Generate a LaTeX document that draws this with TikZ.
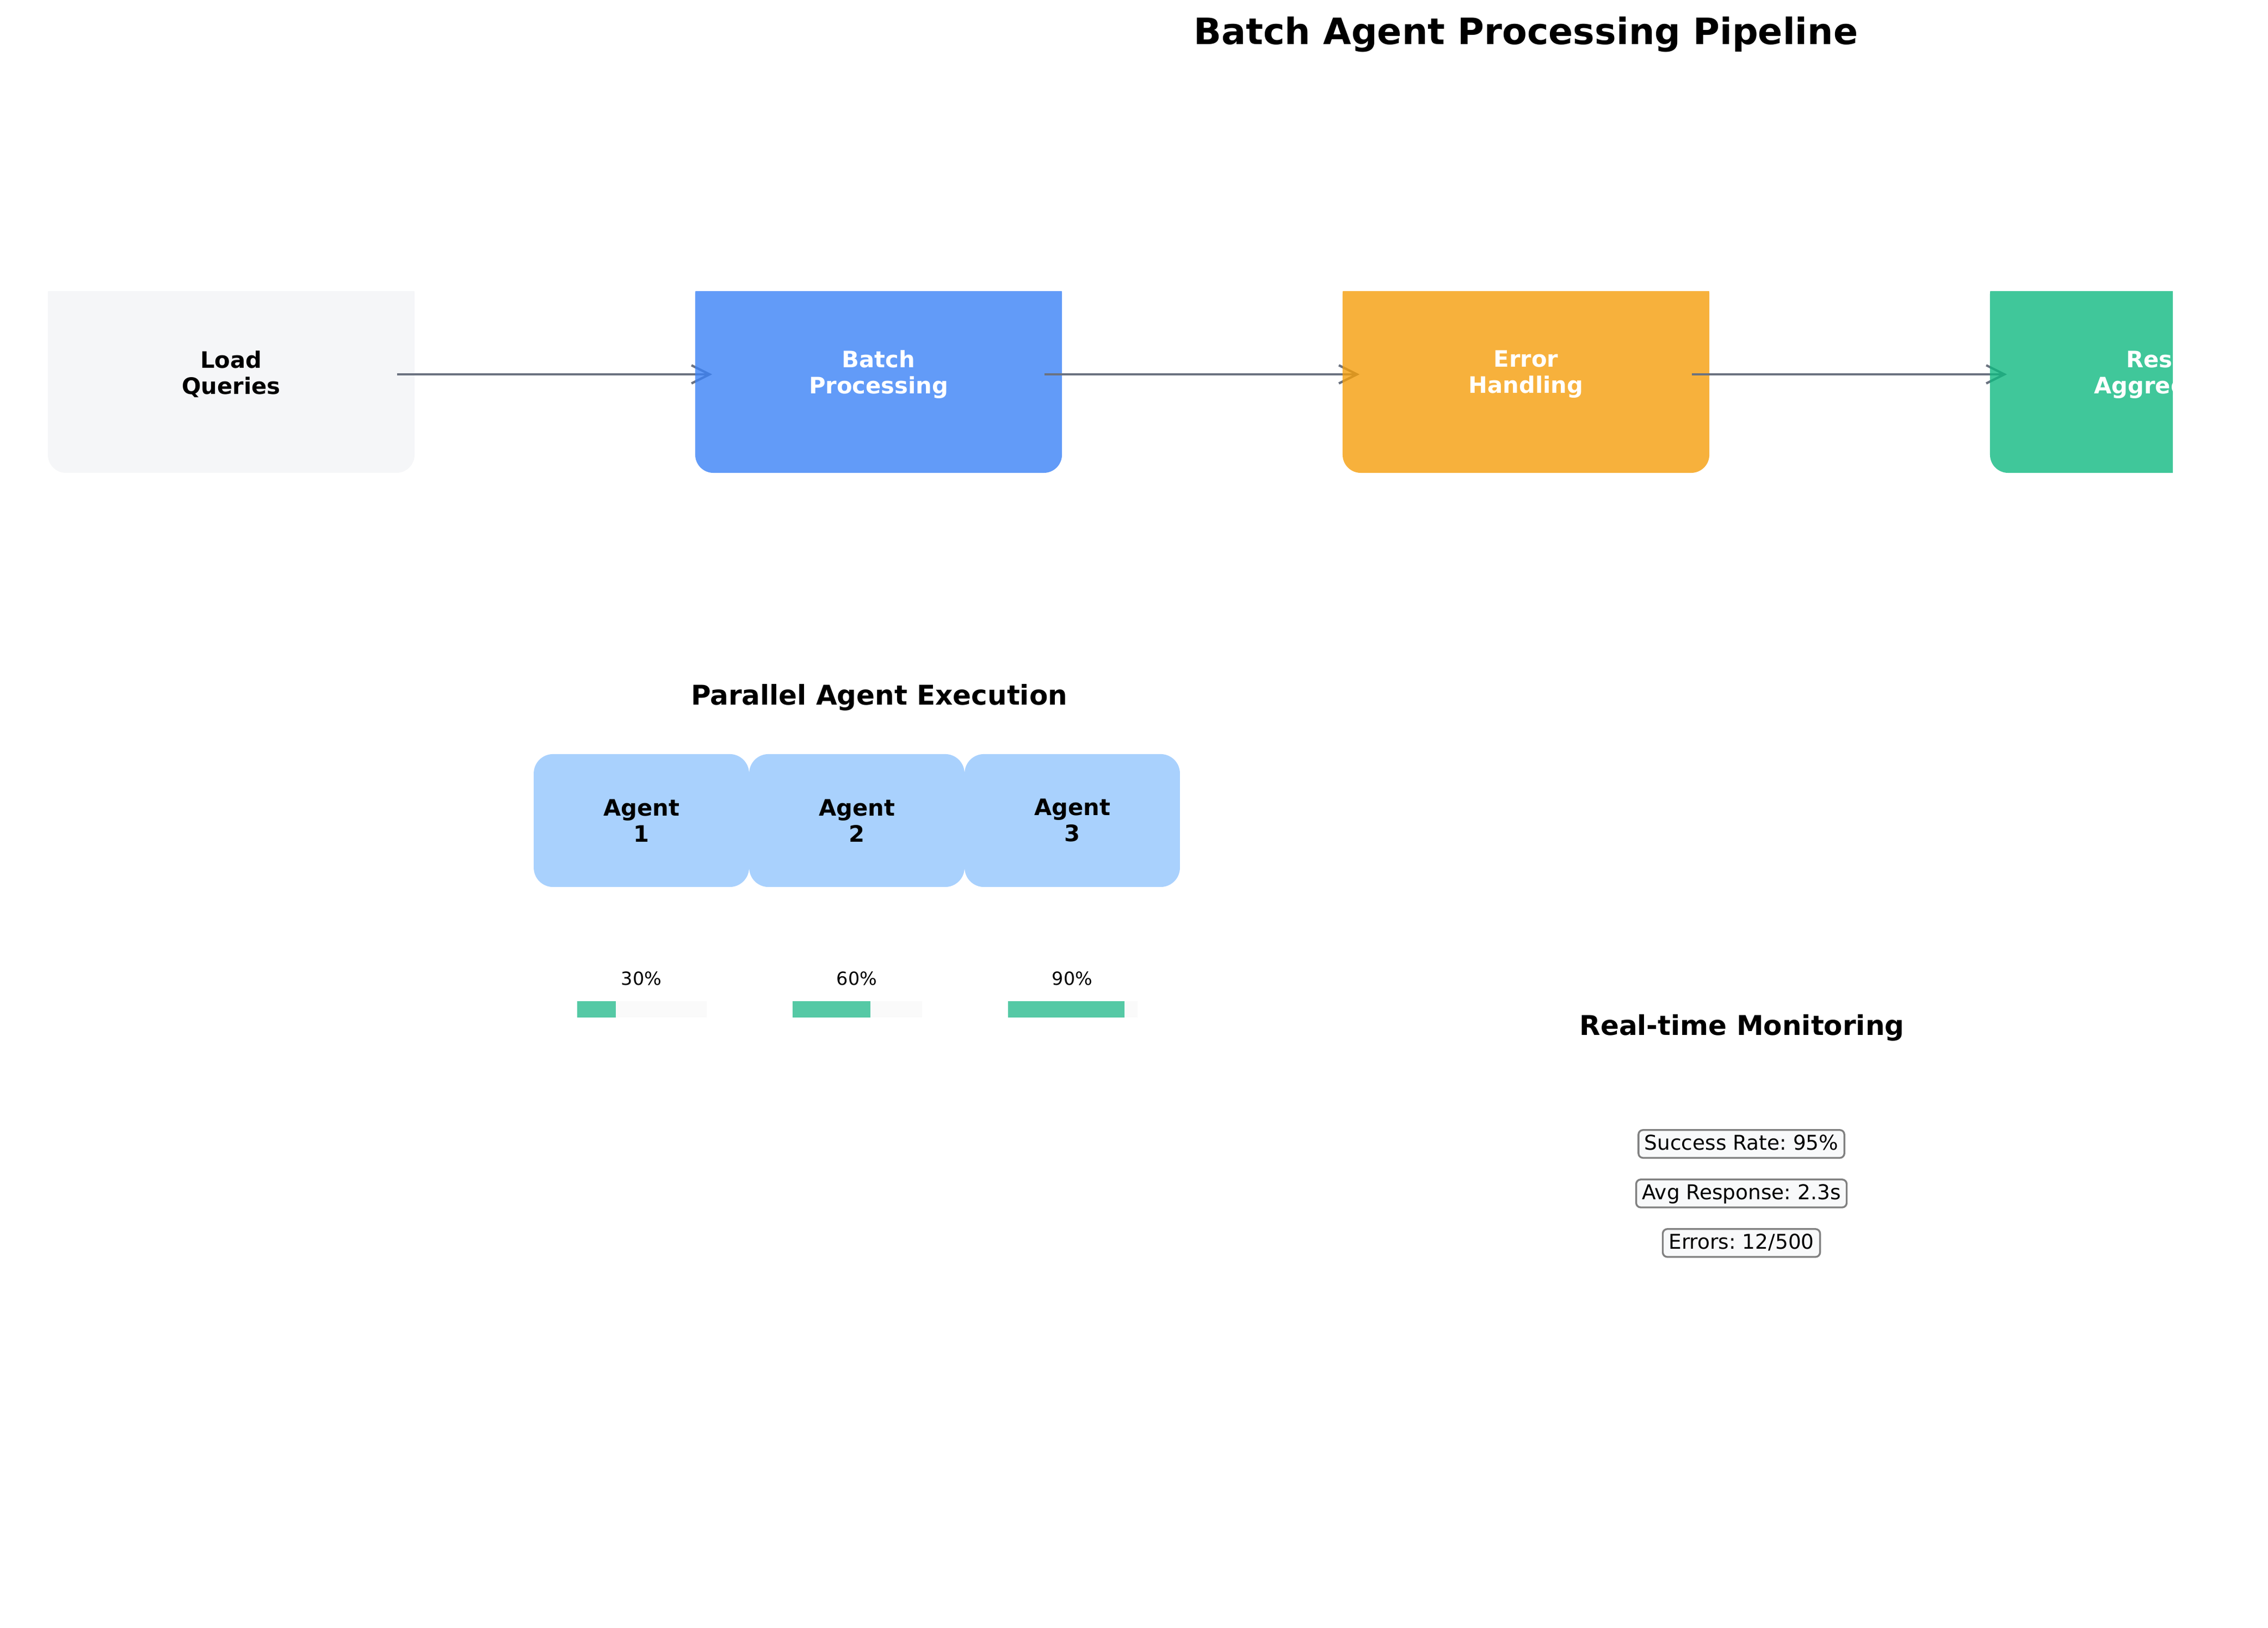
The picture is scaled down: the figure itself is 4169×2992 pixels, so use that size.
\documentclass[tikz,border=0pt]{standalone}
\usepackage{fontspec}
\setmainfont{DejaVu Sans}
\usetikzlibrary{arrows.meta}
\frenchspacing
\definecolor{loadgray}{HTML}{F3F4F6}
\definecolor{batchblue}{HTML}{3B82F6}
\definecolor{erroramber}{HTML}{F59E0B}
\definecolor{resultgreen}{HTML}{10B981}
\definecolor{agentblue}{HTML}{93C5FD}
\definecolor{arrowgray}{HTML}{6B7280}
\definecolor{barfill}{HTML}{55C9A5}
\definecolor{bartrack}{HTML}{FAFAFA}
\definecolor{metricfill}{HTML}{F8F9FA}
\definecolor{metricedge}{HTML}{808080}
\tikzset{
	% ---- default
	every node/.style={inner sep=0pt},
	every picture/.style={x=0.24pt, y=-0.24pt},
	% ---- custom
	title/.style={font=\fontsize{16}{19.2}\selectfont\bfseries},
	heading/.style={font=\fontsize{12}{14.4}\selectfont\bfseries},
	stage/.style={rectangle, rounded corners=8pt, minimum width=161.8pt, minimum height=86.9pt,
		fill opacity=0.8, text opacity=1, align=center, font=\fontsize{10}{11.5}\selectfont\bfseries},
	agent/.style={rectangle, rounded corners=8.5pt, fill=agentblue, fill opacity=0.8, text opacity=1,
		minimum width=95pt, minimum height=58.6pt, align=center, font=\fontsize{10}{11.5}\selectfont\bfseries},
	flow/.style={-{Straight Barb[length=8pt, width=8pt]}, line width=1pt, draw=arrowgray},
	percent/.style={font=\fontsize{8}{9.6}\selectfont},
	metric/.style={rectangle, rounded corners=2pt, draw=metricedge, line width=0.8pt, fill=metricfill,
		inner xsep=2.6pt, inner ysep=2.7pt, text height=6pt, text depth=0.9pt, font=\fontsize{9}{10.8}\selectfont},
}

\begin{document}
\begin{tikzpicture}

\useasboundingbox (0,0) rectangle (4169,2992);

% parameters %{{{2

	\def\stagey{688}
	\def\agenty{1508}
	\def\barw{238}

% coordinates %{{{2

	\coordinate (E2) at (1309,\stagey);
	\coordinate (E3) at (2499,\stagey);
	\coordinate (E4) at (3689,\stagey);

% title %{{{2

	\node[title, anchor=base] (T) at (2805,82) {Batch Agent Processing Pipeline};

% pipeline stages and arrows %{{{2

	\begin{scope}
		\clip (0,536) rectangle (3994,2992);

		\node[stage, fill=loadgray] (S1) at (425,\stagey) {Load\\Queries};
		\draw[flow, shorten <=-7.9pt] (S1) -- (E2);

		\node[stage, fill=batchblue, text=white] (S2) at (1615,\stagey) {Batch\\Processing};
		\draw[flow, shorten <=-7.9pt] (S2) -- (E3);

		\node[stage, fill=erroramber, text=white] (S3) at (2805,\stagey) {Error\\Handling};
		\draw[flow, shorten <=-7.9pt] (S3) -- (E4);

		\node[stage, fill=resultgreen, text=white] (S4) at (3995,\stagey) {Results\\Aggregation};
	\end{scope}

% parallel agents %{{{2

	\node[heading, anchor=base] (PA) at (1616,1295) {Parallel Agent Execution};

	\foreach \i/\x/\p in {1/1179/30, 2/1575/60, 3/1971/90} {
		\node[agent] (A\i) at (\x,\agenty) {Agent\\\i};
		\node[percent, anchor=base] (P\i) at (\x,1810) {\p\%};
		\fill[bartrack] ({\x-118},1840) rectangle ++(\barw,30);
		\fill[barfill] ({\x-118},1840) rectangle ++({\barw/100*\p},30);
	}

% monitoring %{{{2

	\node[heading, anchor=base] (RM) at (3202,1902) {Real-time Monitoring};

	\node[metric, anchor=base] (M1) at (3201,2113) {Success Rate: 95\%};
	\node[metric, anchor=base] (M2) at (3201,2204) {Avg Response: 2.3s};
	\node[metric, anchor=base] (M3) at (3201,2295) {Errors: 12/500};

% closing %{{{2

\end{tikzpicture}
\end{document}
